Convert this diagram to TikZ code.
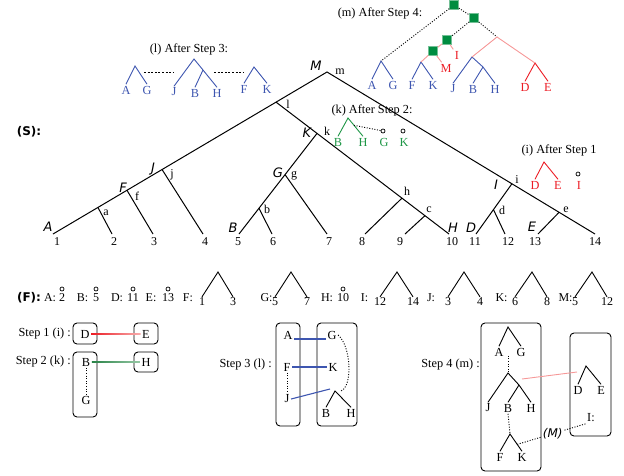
\documentclass[tikz,border=0pt]{standalone}
\usepackage{fontspec}
\setmainfont{Liberation Serif}
\newfontfamily\lblfont{DejaVu Sans}
\usetikzlibrary{calc}
\definecolor{treeblue}{RGB}{62,86,176}
\definecolor{treered}{RGB}{236,28,36}
\definecolor{treepink}{RGB}{246,152,152}
\definecolor{treegreen}{RGB}{30,150,70}
\definecolor{sqgreen}{RGB}{0,140,64}
\definecolor{linkgreen}{RGB}{40,130,70}
\definecolor{linkfade}{RGB}{150,200,165}
\begin{document}
\begin{tikzpicture}[x=1pt,y=-1pt,
  br/.style={black,line width=1pt},
  ital/.style={font=\lblfont\itshape\fontsize{13}{15}\selectfont,inner sep=0pt},
  jl/.style={font=\fontsize{12}{14}\selectfont,inner sep=0pt},
  num/.style={font=\fontsize{12}{14}\selectfont,inner sep=0pt},
  ttl/.style={font=\fontsize{12.3}{14}\selectfont,inner sep=0pt},
  lf/.style={font=\fontsize{12.3}{14}\selectfont,inner sep=1.5pt},
  bt/.style={treeblue,line width=0.9pt},
  rt/.style={treered,line width=0.9pt},
  gt/.style={treegreen,line width=0.9pt},
  pk/.style={treepink,line width=0.9pt},
  kt/.style={black,line width=0.9pt},
  link/.style={treeblue,line width=1.1pt},
  dotblk/.style={black,line width=0.9pt,dash pattern=on 1pt off 1.6pt},
  dashblk/.style={black,line width=0.9pt,dash pattern=on 2pt off 1.6pt},
  sq/.style={draw=sqgreen!55,fill=sqgreen,minimum size=9pt,inner sep=0pt,line width=0.6pt},
  ring/.style={circle,draw,inner sep=0pt,minimum size=4pt,line width=0.7pt},
  stepbox/.style={draw,rounded corners=4pt,line width=0.9pt,inner sep=0pt},
  bold/.style={font=\lblfont\bfseries\fontsize{12}{14}\selectfont,inner sep=0pt}
]
\useasboundingbox (0,0) rectangle (624,475);

% ---------------- species tree (S) ----------------
\node[bold] (Slab) at (29,132) {(S):};
\coordinate (M) at (327,72);
\coordinate (n1) at (53,234);
\coordinate (n14) at (595,234);
\coordinate (xl) at ($(M)!0.186!(n1)$);
\coordinate (xj) at ($(M)!0.602!(n1)$);
\coordinate (xf) at ($(M)!0.730!(n1)$);
\coordinate (xa) at ($(M)!0.836!(n1)$);
\coordinate (xi) at ($(M)!0.690!(n14)$);
\coordinate (xe) at ($(M)!0.866!(n14)$);
\coordinate (n10) at (449,234);
\coordinate (xk) at ($(xl)!0.237!(n10)$);
\coordinate (xh) at ($(xl)!0.728!(n10)$);
\coordinate (xc) at ($(xl)!0.861!(n10)$);
\coordinate (n5) at (239,234);
\coordinate (xg) at ($(xk)!0.41!(n5)$);
\coordinate (xb) at ($(xk)!0.744!(n5)$);
\coordinate (n11) at (476,234);
\coordinate (xd) at ($(xi)!0.514!(n11)$);
\coordinate (n2) at (112,234);
\coordinate (n3) at (153,234);
\coordinate (n4) at (203,234);
\coordinate (n6) at (272,234);
\coordinate (n7) at (327,234);
\coordinate (n8) at (365,234);
\coordinate (n9) at (405,234);
\coordinate (n12) at (505,234);
\coordinate (n13) at (538,234);

\draw[br] (n1) -- (M) -- (n14);
\draw[br] (xl) -- (n10);
\draw[br] (xk) -- (n5);
\draw[br] (xi) -- (n11);
\draw[br] (xa) -- (n2);
\draw[br] (xf) -- (n3);
\draw[br] (xj) -- (n4);
\draw[br] (xb) -- (n6);
\draw[br] (xg) -- (n7);
\draw[br] (xh) -- (n8);
\draw[br] (xc) -- (n9);
\draw[br] (xd) -- (n12);
\draw[br] (xe) -- (n13);

\foreach \x/\t [count=\k] in {57/1,114/2,154/3,205/4,238/5,273/6,329/7,362/8,400/9,452/10,475/11,508/12,535/13,595/14}
  \node[num] (leaf\k) at (\x,242) {\t};

\node[ital] (lM) at (316,66) {M};
\node[jl] (lm) at (340,72) {m};
\node[jl] (ll) at (288,104) {l};
\node[ital] (lK) at (307,133) {K};
\node[jl] (lk) at (327,131) {k};
\node[ital] (lJ) at (153,169) {J};
\node[jl] (lj) at (172,175) {j};
\node[ital] (lF) at (123,188) {F};
\node[jl] (lf) at (137,196) {f};
\node[ital] (lA) at (48,227) {A};
\node[jl] (la) at (106,213) {a};
\node[ital] (lG) at (278,173) {G};
\node[jl] (lg) at (294,176) {g};
\node[ital] (lB) at (233,228) {B};
\node[jl] (lb) at (267,209) {b};
\node[jl] (lh) at (407,191) {h};
\node[jl] (lc) at (429,210) {c};
\node[ital] (lH) at (453,228) {H};
\node[ital] (lD) at (471,228) {D};
\node[jl] (ld) at (502,210) {d};
\node[ital] (lE) at (532,227) {E};
\node[jl] (le) at (566,210) {e};
\node[ital] (lI) at (496,185) {I};
\node[jl] (li) at (517,180) {i};

% ---------------- (l) After Step 3 ----------------
\node[ttl] (t3) at (189,49) {(l) After Step 3:};
\node[lf,treeblue] (l3A) at (126,90) {A};
\node[lf,treeblue] (l3G) at (147,90) {G};
\coordinate (l3AG) at (135,66);
\draw[bt] (l3A.north) -- (l3AG) -- (l3G.north);
\node[lf,treeblue] (l3J) at (174,92) {J};
\node[lf,treeblue] (l3B) at (195,93) {B};
\node[lf,treeblue] (l3H) at (217,93) {H};
\coordinate (l3JBH) at (194,59);
\coordinate (l3sub) at (203,70);
\draw[bt] (l3J.north) -- (l3JBH) -- (l3sub) -- (l3H.north);
\draw[bt] (l3sub) -- (l3B.north);
\node[lf,treeblue] (l3F) at (244,89) {F};
\node[lf,treeblue] (l3K) at (267,89) {K};
\coordinate (l3FK) at (254,67);
\draw[bt] (l3F.north) -- (l3FK) -- (l3K.north);
\coordinate (d3a) at (144,72);
\coordinate (d3b) at (173,72);
\coordinate (d3c) at (214,72);
\coordinate (d3d) at (243,72);
\draw[dashblk] (d3a) -- (d3b);
\draw[dashblk] (d3c) -- (d3d);

% ---------------- (m) After Step 4 ----------------
\node[ttl] (t4) at (380,13) {(m) After Step 4:};
\node[sq] (q1) at (454,5) {};
\node[sq] (q2) at (474,18) {};
\node[sq] (q3) at (447,40) {};
\node[sq] (q4) at (433,51) {};
\node[lf,treeblue] (m4A) at (372,85) {A};
\node[lf,treeblue] (m4G) at (393,85) {G};
\coordinate (m4AG) at (381,61);
\draw[bt] (m4A.north) -- (m4AG) -- (m4G.north);
\node[lf,treeblue] (m4F) at (412,85) {F};
\node[lf,treeblue] (m4K) at (433,85) {K};
\coordinate (m4FK) at (421,62);
\draw[bt] (m4F.north) -- (m4FK) -- (m4K.north);
\node[lf,treeblue] (m4J) at (453,89) {J};
\node[lf,treeblue] (m4B) at (473,89) {B};
\node[lf,treeblue] (m4H) at (495,89) {H};
\coordinate (m4JBH) at (472,57);
\coordinate (m4sub) at (483,67);
\draw[bt] (m4J.north) -- (m4JBH) -- (m4sub) -- (m4H.north);
\draw[bt] (m4sub) -- (m4B.north);
\node[lf,treered] (m4D) at (525,87) {D};
\node[lf,treered] (m4E) at (548,87) {E};
\coordinate (m4DE) at (535,63);
\draw[rt] (m4D.north) -- (m4DE) -- (m4E.north);
\node[lf,treered] (m4M) at (446,68) {M};
\node[lf,treered] (m4I) at (457,55) {I};
\coordinate (m4P) at (497,37);
\draw[dotblk] (q1) -- (m4AG);
\draw[dotblk] (q1) -- (q2);
\draw[dotblk] (q2) -- (q3);
\draw[dotblk] (q2) -- (m4P);
\draw[pk] (m4P) -- (m4JBH);
\draw[pk] (m4P) -- (m4DE);
\draw[pk] (q3) -- (q4);
\draw[pk] (q3) -- (m4I);
\draw[pk] (q4) -- (m4FK);
\draw[pk] (q4) -- (m4M);

% ---------------- (k) After Step 2 ----------------
\node[ttl] (t2) at (372,110) {(k) After Step 2:};
\node[lf,treegreen] (k2B) at (338,142) {B};
\node[lf,treegreen] (k2H) at (363,142) {H};
\coordinate (k2BH) at (348,118);
\draw[gt] (k2B.north) -- (k2BH) -- (k2H.north);
\node[lf,treegreen] (k2G) at (384,142) {G};
\node[lf,treegreen] (k2K) at (404,142) {K};
\node[ring] (k2cG) at (383,131) {};
\node[ring] (k2cK) at (403,131) {};
\draw[dotblk] ($(k2BH)!0.4!(k2H.north)$) -- (k2cG);

% ---------------- (i) After Step 1 ----------------
\node[ttl] (t1) at (559,150) {(i) After Step 1};
\node[lf,treered] (i1D) at (535,185) {D};
\node[lf,treered] (i1E) at (558,185) {E};
\coordinate (i1DE) at (544,162);
\draw[rt] (i1D.north) -- (i1DE) -- (i1E.north);
\node[lf,treered] (i1I) at (579,185) {I};
\node[ring] (i1cI) at (578,174) {};

% ---------------- gene tree list (F) ----------------
\node[bold] (Flab) at (29,298) {(F):};
\foreach \lx/\lt/\nx/\nt/\nm in {50/A/62/2/a,82.5/B/96/5/b,117/D/133/11/d,151/E/168/13/e,327/H/343/10/h}{
  \node[num] (f\nm lab) at (\lx,298) {\lt:};
  \node[num] (f\nm num) at (\nx,298) {\nt};
  \node[ring] (f\nm ring) at (\nx,289) {};
}
\foreach \lx/\lt/\ax/\l/\r/\lv/\rv in {188/F/218/202/233/1/3,266.5/G/291/275/307/5/7,364.5/I/397/380/413/12/14,431/J/464/448/480/3/4,501.5/K/532/515/547/6/8,565.5/M/592/575/607/5/12}{
  \node[num] (g\lt lab) at (\lx,298) {\lt:};
  \node[num] (g\lt l) at (\l,302) {\lv};
  \node[num] (g\lt r) at (\r,302) {\rv};
  \coordinate (g\lt top) at (\ax,272);
  \draw[kt] ([yshift=1pt]g\lt l.north) -- (g\lt top) -- ([yshift=1pt]g\lt r.north);
}

% ---------------- reconciliation steps ----------------
% step 1
\node[ttl,anchor=east] (s1t) at (71,334) {Step 1 (i) :};
\node[stepbox,minimum width=24pt,minimum height=21pt] (s1bD) at (85,333.5) {};
\node[stepbox,minimum width=24pt,minimum height=21pt] (s1bE) at (146,333.5) {};
\node[lf] (s1D) at (85,334) {D};
\node[lf] (s1E) at (146,334) {E};
\shade[left color=treered,right color=treepink!80] ([yshift=-0.5pt]s1D.east) rectangle ([yshift=0.5pt]s1E.west);

% step 2
\node[ttl,anchor=east] (s2t) at (71,362) {Step 2 (k) :};
\node[stepbox,minimum width=24pt,minimum height=65pt] (s2bBG) at (85,384.5) {};
\node[stepbox,minimum width=24pt,minimum height=20pt] (s2bH) at (146,362) {};
\node[lf] (s2B) at (86,362) {B};
\node[lf] (s2G) at (86,400) {G};
\node[lf] (s2H) at (146,362) {H};
\draw[dotblk] (s2B.south) -- (s2G.north);
\shade[left color=linkgreen,right color=linkfade] ([yshift=-0.5pt]s2B.east) rectangle ([yshift=0.5pt]s2H.west);

% step 3
\node[ttl,anchor=east] (s3t) at (272,365) {Step 3 (l) :};
\node[stepbox,minimum width=24pt,minimum height=103pt] (s3bL) at (288,374.5) {};
\node[stepbox,minimum width=40pt,minimum height=103pt] (s3bR) at (337,374.5) {};
\node[lf] (s3A) at (288,335) {A};
\node[lf] (s3F) at (287,367) {F};
\node[lf] (s3J) at (287,399) {J};
\node[lf] (s3G) at (332,335) {G};
\node[lf] (s3K) at (333,367) {K};
\node[lf] (s3B) at (326,413) {B};
\node[lf] (s3H) at (351,413) {H};
\coordinate (s3BH) at (335,391);
\draw[kt] (s3B.north) -- (s3BH) -- (s3H.north);
\draw[dotblk] (s3F.south) -- (s3J.north);
\draw[dotblk] (s3G.east) .. controls (351,346) and (353,386) .. ([xshift=6pt]s3BH);
\draw[link] ([yshift=-4pt]s3A.east) -- ([yshift=-4pt]s3G.west);
\draw[link] (s3F.east) -- (s3K.west);
\draw[link] (s3J.east) -- ([xshift=-5pt,yshift=2pt]s3BH);

% step 4
\node[ttl,anchor=east] (s4t) at (480,365) {Step 4 (m) :};
\node[stepbox,minimum width=60pt,minimum height=148pt] (s4bL) at (511,397) {};
\node[stepbox,minimum width=41pt,minimum height=103pt] (s4bR) at (590.5,384.5) {};
\node[lf] (s4A) at (499,352) {A};
\node[lf] (s4G) at (521,352) {G};
\coordinate (s4AG) at (508,327);
\draw[kt] (s4A.north) -- (s4AG) -- (s4G.north);
\node[lf] (s4J) at (488,408) {J};
\node[lf] (s4B) at (508,408) {B};
\node[lf] (s4H) at (531,408) {H};
\coordinate (s4JBH) at (508,373);
\coordinate (s4sub) at (519,385);
\draw[kt] (s4J.north) -- (s4JBH) -- (s4sub) -- (s4H.north);
\draw[kt] (s4sub) -- (s4B.north);
\node[lf] (s4F) at (500,457) {F};
\node[lf] (s4K) at (522,457) {K};
\coordinate (s4FK) at (510,434);
\draw[kt] (s4F.north) -- (s4FK) -- (s4K.north);
\draw[dotblk] ([yshift=2pt]s4A.south -| s4AG) -- (s4JBH);
\draw[dotblk] (s4B.south) -- (s4FK);
\node[lf] (s4D) at (578,390) {D};
\node[lf] (s4E) at (601,390) {E};
\coordinate (s4DE) at (586,366);
\draw[kt] (s4D.north) -- (s4DE) -- (s4E.north);
\node[lf] (s4I) at (591,418) {I:};
\coordinate (s4pa) at (522,379);
\coordinate (s4pb) at (577,372);
\draw[pk] (s4pa) -- (s4pb);
\draw[dotblk] ($(s4FK)!0.6!(s4K.north)$) -- (s4I.south west)
  node[pos=0.52,fill=white,inner sep=1pt,font=\lblfont\itshape\fontsize{12}{14}\selectfont] (s4Mlab) {(M)};
\end{tikzpicture}
\end{document}
